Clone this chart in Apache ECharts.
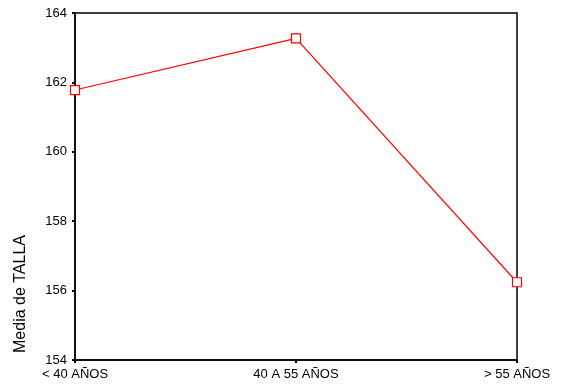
<!DOCTYPE html>
<html>
<head>
<meta charset="utf-8">
<script src="https://cdn.jsdelivr.net/npm/echarts@6/dist/echarts.min.js"></script>
<style>
html, body { margin: 0; padding: 0; background: #fff; }
#chart { width: 564px; height: 388px; }
</style>
</head>
<body>
<div id="chart"></div>
<script>
// categorias de edad y media de talla
var categorias = ['< 40 AÑOS', '40 A 55 AÑOS', '> 55 AÑOS'];
var mediaTalla = [161.78, 163.27, 156.24];
var ticksY = [154, 156, 158, 160, 162, 164];

var myChart = echarts.init(document.getElementById('chart'));
var option = {
    animation: false,
    grid: {
        left: 75, right: 47, top: 13, bottom: 28,
        show: true, borderColor: '#000', borderWidth: 1.5, backgroundColor: '#fff'
    },
    xAxis: {
        type: 'category',
        data: categorias,
        boundaryGap: false,
        axisLine: { lineStyle: { color: '#000', width: 1.5 } },
        axisTick: { length: 3, lineStyle: { color: '#000', width: 2 } },
        axisLabel: { color: '#000', fontFamily: 'Liberation Sans', fontSize: 13, margin: 8 },
        splitLine: { show: false }
    },
    yAxis: {
        type: 'value',
        min: ticksY[0],
        max: ticksY[ticksY.length - 1],
        interval: 2,
        axisLine: { show: true, lineStyle: { color: '#000', width: 1.5 } },
        axisTick: { show: true, length: 3, lineStyle: { color: '#000', width: 2 } },
        axisLabel: { color: '#000', fontFamily: 'Liberation Sans', fontSize: 13, margin: 8 },
        splitLine: { show: false }
    },
    graphic: [{
        type: 'text',
        x: 21, y: 294,
        rotation: Math.PI / 2,
        style: {
            text: 'Media de TALLA',
            fill: '#000',
            font: '16px "Liberation Sans"',
            align: 'center',
            verticalAlign: 'middle'
        }
    }],
    series: [{
        type: 'line',
        data: mediaTalla,
        symbol: 'rect',
        symbolSize: 9,
        itemStyle: { color: '#fff', borderColor: '#ff0000', borderWidth: 1.2 },
        lineStyle: { color: '#ff0000', width: 1.2 }
    }]
};
myChart.setOption(option);
</script>
</body>
</html>
